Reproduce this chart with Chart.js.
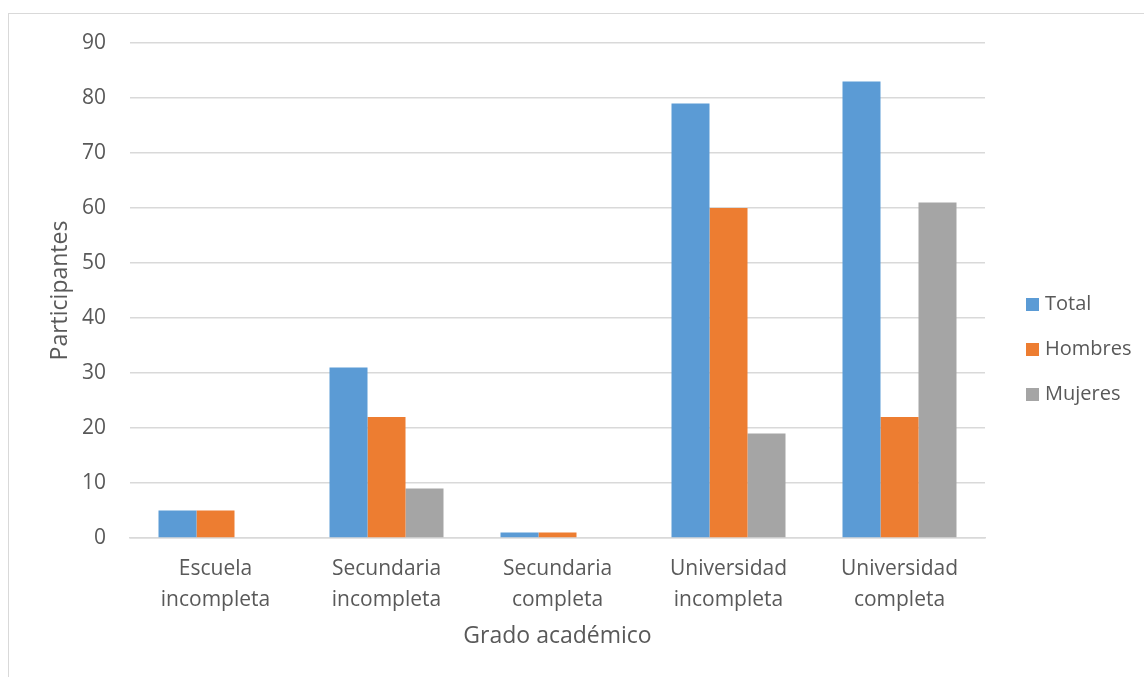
<!DOCTYPE html>
<html>
<head>
<meta charset="utf-8">
<script src="https://cdn.jsdelivr.net/npm/chart.js@4/dist/chart.umd.min.js"></script>
<style>
  html, body { margin: 0; padding: 0; background: #fff; overflow: hidden; }
  #wrap { position: relative; width: 1144px; height: 677px; }
  #frame { position: absolute; left: 8px; top: 13px; width: 1200px; height: 700px;
           border: 1px solid #d9d9d9; box-sizing: border-box; pointer-events: none; }
  canvas { position: absolute; left: 0; top: 0; }
</style>
</head>
<body>
<div id="wrap">
  <div id="frame"></div>
  <canvas id="c" width="1144" height="677"></canvas>
</div>
<script>
// Education level of the participants, split by gender
const categories = [
  ['Escuela', 'incompleta'],
  ['Secundaria', 'incompleta'],
  ['Secundaria', 'completa'],
  ['Universidad', 'incompleta'],
  ['Universidad', 'completa']
];
const seriesNames = ['Total', 'Hombres', 'Mujeres'];
const totalValues = [5, 31, 1, 79, 83];
const hombresValues = [5, 22, 1, 60, 22];
const mujeresValues = [0, 9, 0, 19, 61];
const yTicks = [0, 10, 20, 30, 40, 50, 60, 70, 80, 90];

const colors = ['#5B9BD5', '#ED7D31', '#A5A5A5'];
const textColor = '#595959';
const gridColor = '#D9D9D9';
const FONT = "'Open Sans', 'Noto Sans', sans-serif";

// Legend on the right, stacked vertically
const sideLegend = {
  id: 'sideLegend',
  afterDraw(chart) {
    const ctx = chart.ctx;
    ctx.save();
    ctx.font = '20px ' + FONT;
    ctx.textBaseline = 'middle';
    ctx.textAlign = 'left';
    const x = 1026, y0 = 304, gap = 45;
    chart.data.datasets.forEach((ds, i) => {
      const y = y0 + i * gap;
      ctx.fillStyle = ds.backgroundColor;
      ctx.fillRect(x, y - 6, 13, 13);
      ctx.fillStyle = textColor;
      ctx.fillText(ds.label, x + 19, y);
    });
    ctx.restore();
  }
};

new Chart(document.getElementById('c'), {
  type: 'bar',
  data: {
    labels: categories,
    datasets: [
      { label: seriesNames[0], data: totalValues, backgroundColor: colors[0] },
      { label: seriesNames[1], data: hombresValues, backgroundColor: colors[1] },
      { label: seriesNames[2], data: mujeresValues, backgroundColor: colors[2] }
    ]
  },
  options: {
    responsive: false,
    animation: false,
    devicePixelRatio: 1,
    layout: { padding: { left: 30, top: 43, right: 159, bottom: 0 } },
    datasets: { bar: { categoryPercentage: 3 / 4.5, barPercentage: 1.0, borderWidth: 0 } },
    plugins: { legend: { display: false }, tooltip: { enabled: false } },
    scales: {
      x: {
        grid: { display: false, drawTicks: false },
        border: { display: true, color: gridColor, width: 1.5 },
        ticks: { color: textColor, font: { family: FONT, size: 21, lineHeight: 1.45 }, padding: 16, maxRotation: 0, autoSkip: false },
        title: { display: true, text: 'Grado académico', color: textColor,
                 font: { family: FONT, size: 23 }, padding: { top: 0, bottom: 27 } },
        afterFit(scale) { scale.height = 677 - 538; }
      },
      y: {
        min: 0, max: 90,
        afterBuildTicks(scale) { scale.ticks = yTicks.map(v => ({ value: v })); },
        grid: { color: gridColor, lineWidth: 1.5, drawTicks: false },
        border: { display: false },
        ticks: { color: textColor, font: { family: FONT, size: 21 }, padding: 24 },
        title: { display: true, text: 'Participantes', color: textColor,
                 font: { family: FONT, size: 23 }, padding: { top: 17, bottom: 0 } },
        afterFit(scale) { scale.width = 100; }
      }
    }
  },
  plugins: [sideLegend]
});
</script>
</body>
</html>
